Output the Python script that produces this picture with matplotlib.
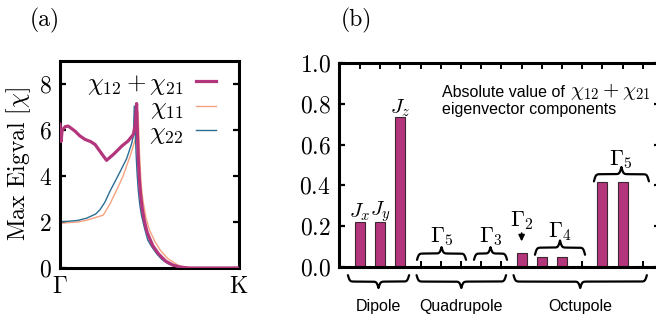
import numpy as np
import matplotlib
matplotlib.use("Agg")
import matplotlib.pyplot as plt

plt.rcParams['font.family'] = 'serif'
plt.rcParams['font.serif'] = ['cmr10', 'DejaVu Serif']
plt.rcParams['mathtext.fontset'] = 'cm'
plt.rcParams['axes.formatter.use_mathtext'] = True
plt.rcParams['axes.unicode_minus'] = False

# =============================================================================
# Data (a): max eigenvalue along Gamma -> K (fraction of path)
# =============================================================================
x_c1221 = [0.0, 0.006, 0.012, 0.03, 0.046, 0.084, 0.11, 0.14, 0.17, 0.196,
           0.23, 0.26, 0.30, 0.345, 0.38, 0.41, 0.42, 0.428, 0.432, 0.437,
           0.443, 0.45, 0.46, 0.47, 0.485, 0.50, 0.52, 0.55, 0.59, 0.63,
           0.67, 0.72, 1.0]
y_c1221 = [6.25, 5.5, 6.0, 6.15, 6.17, 5.95, 5.75, 5.59, 5.5, 5.37,
           5.0, 4.68, 4.95, 5.3, 5.52, 5.81, 6.2, 7.15, 6.0, 4.8,
           3.9, 3.2, 2.55, 2.1, 1.6, 1.3, 0.95, 0.62, 0.3, 0.13,
           0.04, 0.0, 0.0]

x_c11 = [0.0, 0.1, 0.15, 0.2, 0.242, 0.28, 0.317, 0.35, 0.391, 0.419,
         0.43, 0.436, 0.44, 0.445, 0.45, 0.456, 0.465, 0.48, 0.50, 0.53,
         0.56, 0.60, 0.624, 0.66, 0.70, 0.74, 1.0]
y_c11 = [1.95, 2.0, 2.08, 2.2, 2.3, 2.8, 3.4, 3.95, 4.85, 5.55,
         6.2, 6.8, 5.9, 4.9, 4.1, 3.4, 2.85, 2.2, 1.65, 1.15,
         0.78, 0.42, 0.3, 0.12, 0.03, 0.0, 0.0]

x_c22 = [0.0, 0.1, 0.15, 0.2, 0.223, 0.25, 0.28, 0.33, 0.372, 0.40,
         0.41, 0.415, 0.42, 0.425, 0.43, 0.437, 0.445, 0.455, 0.47, 0.49,
         0.51, 0.54, 0.568, 0.60, 0.64, 0.68, 0.72, 1.0]
y_c22 = [2.0, 2.07, 2.17, 2.35, 2.53, 2.85, 3.35, 4.1, 4.75, 5.4,
         5.75, 7.04, 6.0, 5.0, 4.2, 3.4, 2.8, 2.3, 1.8, 1.22,
         0.95, 0.62, 0.38, 0.2, 0.07, 0.01, 0.0, 0.0]

# =============================================================================
# Data (b): |eigenvector components|
# =============================================================================
bar_vals = [0.22, 0.22, 0.735, 0.0, 0.0, 0.0, 0.0, 0.0,
            0.07, 0.05, 0.05, 0.006, 0.415, 0.415, 0.006]
bar_labels = [(0, r'$J_x$', 0.27), (1, r'$J_y$', 0.27), (2, r'$J_z$', 0.78)]

# (x0, x1, base, height, label, label_y)
braces_up = [(2.82, 5.25, 0.035, 0.062, r'$\Gamma_5$', 0.15),
             (5.64, 7.28, 0.035, 0.062, r'$\Gamma_3$', 0.15),
             (8.66, 11.14, 0.06, 0.07, r'$\Gamma_4$', 0.175),
             (11.58, 14.3, 0.42, 0.07, r'$\Gamma_5$', 0.525)]
braces_down = [(-0.6, 2.43, -0.04, 0.063, 'Dipole'),
               (2.8, 7.23, -0.04, 0.063, 'Quadrupole'),
               (7.6, 14.2, -0.04, 0.063, 'Octupole')]

c_purple = '#b3357c'
c_orange = '#f7a27e'
c_blue = '#2a6e96'


def brace(ax, x0, x1, y, h, up=True, k=22., **kw):
    """Curly brace between x0 and x1, tip pointing up (or down)."""
    xm = 0.5 * (x0 + x1)
    xs = np.linspace(x0, xm, 200)
    yh = 1 / (1 + np.exp(-k * (xs - x0))) + 1 / (1 + np.exp(-k * (xs - xm)))
    yh = (yh - yh[0]) / (yh[-1] - yh[0])
    xx = np.concatenate([xs, (x0 + x1) - xs[::-1]])
    yy = np.concatenate([yh, yh[::-1]])
    sign = 1 if up else -1
    ax.plot(xx, y + sign * h * yy, color='black', clip_on=False,
            solid_capstyle='round', **kw)


fig = plt.figure(figsize=(6.56, 3.2), dpi=100)

# -----------------------------------------------------------------------------
# Panel (a)
# -----------------------------------------------------------------------------
ax1 = fig.add_axes([60 / 656, 52 / 320, 179 / 656, 207 / 320])
ax1.plot(x_c1221, y_c1221, color=c_purple, lw=2.3, label=r'$\chi_{12}+\chi_{21}$',
         zorder=3)
ax1.plot(x_c11, y_c11, color=c_orange, lw=1.0, label=r'$\chi_{11}$', zorder=2)
ax1.plot(x_c22, y_c22, color=c_blue, lw=1.0, label=r'$\chi_{22}$', zorder=2)
ax1.set_xlim(0, 1)
ax1.set_ylim(0, 9)
ax1.set_yticks([0, 2, 4, 6, 8])
ax1.set_yticklabels([r'$%d$' % v for v in [0, 2, 4, 6, 8]])
ax1.set_xticks([0, 1])
ax1.set_xticklabels([r'$\Gamma$', r'$\mathrm{K}$'])
ax1.tick_params(axis='y', direction='in', length=4, width=1.6, left=True,
                right=True, labelsize=17, pad=6)
ax1.tick_params(axis='x', length=0, labelsize=17, pad=6)
ax1.set_ylabel(r'Max Eigval [$\chi$]', fontsize=17, labelpad=4)
for s in ax1.spines.values():
    s.set_linewidth(2.2)
ax1.legend(loc='upper right', bbox_to_anchor=(0.97, 1.03), frameon=False,
           markerfirst=False, fontsize=18, handlelength=0.8,
           handletextpad=0.5, labelspacing=0.0, borderaxespad=0.3)
fig.text(45 / 656, 1 - 20 / 320, '(a)', fontsize=17, ha='center', va='center')

# -----------------------------------------------------------------------------
# Panel (b)
# -----------------------------------------------------------------------------
ax2 = fig.add_axes([339 / 656, 53 / 320, 321 / 656, 204 / 320])
pos = np.arange(len(bar_vals))
ax2.bar(pos, bar_vals, width=0.5, color=c_purple, edgecolor='#3b2632',
        linewidth=0.8, zorder=2)
ax2.set_xlim(-1.04, 14.85)
ax2.set_ylim(0, 1)
ax2.set_xticks(pos)
ax2.set_xticklabels([])
yt = np.arange(0, 1.01, 0.2)
ax2.set_yticks(yt)
ax2.set_yticklabels([r'$%.1f$' % v for v in yt])
ax2.tick_params(axis='x', direction='in', length=4, width=1.4, top=True,
                bottom=True)
ax2.tick_params(axis='y', direction='in', length=4, width=1.6, left=True,
                right=True, labelsize=17, pad=6)
for s in ax2.spines.values():
    s.set_linewidth(2.2)

for x, lab, y in bar_labels:
    ax2.text(x, y, lab, fontsize=15, ha='center', va='center')

for x0, x1, y, h, lab, ly in braces_up:
    brace(ax2, x0, x1, y, h, up=True, lw=1.6)
    ax2.text(0.5 * (x0 + x1), ly, lab, fontsize=16, ha='center', va='center')

for x0, x1, y, h, lab in braces_down:
    brace(ax2, x0, x1, y, h, up=False, lw=1.6)
    ax2.text(0.5 * (x0 + x1), -0.196, lab, fontsize=11.5, ha='center',
             va='center', family='Liberation Sans', clip_on=False)

ax2.text(8, 0.225, r'$\Gamma_2$', fontsize=16, ha='center', va='center')
ax2.annotate('', xy=(8, 0.112), xytext=(8, 0.18),
             arrowprops=dict(arrowstyle='-|>', color='black', lw=1.2,
                             mutation_scale=9))

ax2.text(4.05, 0.853, 'Absolute value of', fontsize=11.5,
         family='Liberation Sans', ha='left', va='center')
ax2.text(10.4, 0.858, r'$\chi_{12}+\chi_{21}$', fontsize=15,
         ha='left', va='center')
ax2.text(4.05, 0.77, 'eigenvector components', fontsize=11.5,
         family='Liberation Sans', ha='left', va='center')

fig.text(356 / 656, 1 - 20 / 320, '(b)', fontsize=17, ha='center',
         va='center')

fig.savefig('out.png', dpi=100)
